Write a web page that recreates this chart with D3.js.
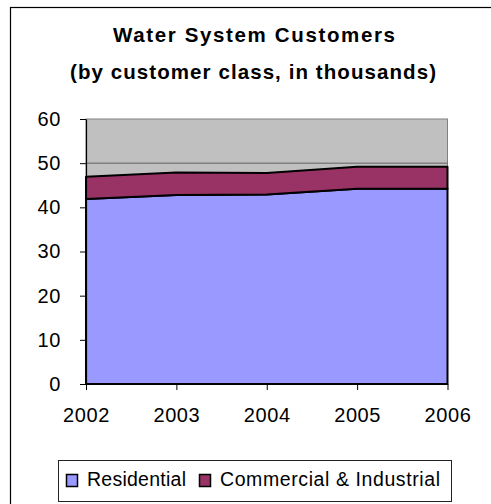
<!DOCTYPE html>
<html>
<head>
<meta charset="utf-8">
<script src="https://cdn.jsdelivr.net/npm/d3@7"></script>
<style>
  html, body { margin: 0; padding: 0; background: #fff; }
  svg { display: block; font-family: "Liberation Sans", Arial, sans-serif; }
</style>
</head>
<body>
<svg id="chart" width="491" height="504"></svg>
<script>
// Customer counts by class, in thousands
const years = [2002, 2003, 2004, 2005, 2006];
const residential = [41.9, 42.8, 42.9, 44.2, 44.2];
const commercial = [5.0, 5.1, 4.9, 5.0, 5.0];
const yTicks = [0, 10, 20, 30, 40, 50, 60];
const seriesNames = ["Residential", "Commercial & Industrial"];
const seriesColors = ["#9999FF", "#993366"];

const svg = d3.select("#chart");
const labelFont = "Liberation Sans, Arial, sans-serif";

// outer chart frame
svg.append("rect")
  .attr("x", 10.5).attr("y", 7.5)
  .attr("width", 490).attr("height", 510)
  .attr("fill", "#fff").attr("stroke", "#000").attr("stroke-width", 1.2);

// title, two lines, stretched to the wide Excel-style spacing
const title = svg.append("text")
  .attr("text-anchor", "middle")
  .attr("font-weight", "bold")
  .attr("font-size", 20.5)
  .attr("fill", "#000");
title.append("tspan").attr("x", 254).attr("y", 42)
  .attr("textLength", 282).attr("lengthAdjust", "spacing")
  .text("Water System Customers");
title.append("tspan").attr("x", 253).attr("y", 79)
  .attr("textLength", 366).attr("lengthAdjust", "spacing")
  .text("(by customer class, in thousands)");

const x0 = 86, x1 = 447.5, yTop = 119, yBot = 384;
const x = d3.scalePoint().domain(years).range([x0, x1]);
const y = d3.scaleLinear().domain([0, 60]).range([yBot, yTop]);

// plot area
svg.append("rect")
  .attr("x", x0).attr("y", yTop)
  .attr("width", x1 - x0).attr("height", yBot - yTop)
  .attr("fill", "#C0C0C0").attr("stroke", "#808080").attr("stroke-width", 1);

// horizontal gridlines
svg.append("g").selectAll("line").data(yTicks.filter(t => t > 0 && t < 60)).join("line")
  .attr("x1", x0).attr("x2", x1)
  .attr("y1", d => y(d)).attr("y2", d => y(d))
  .attr("stroke", "#606060").attr("stroke-width", 1);

// stacked areas
const rows = years.map((yr, i) => ({ year: yr, res: residential[i], com: commercial[i] }));
const stacked = d3.stack().keys(["res", "com"])(rows);
const area = d3.area()
  .x(d => x(d.data.year))
  .y0(d => y(d[0]))
  .y1(d => y(d[1]));

svg.append("g").selectAll("path").data(stacked).join("path")
  .attr("d", area)
  .attr("fill", (d, i) => seriesColors[i])
  .attr("stroke", "#000")
  .attr("stroke-width", 2)
  .attr("stroke-linejoin", "round");

// y axis
const yAxis = svg.append("g")
  .attr("transform", `translate(${x0},0)`)
  .call(d3.axisLeft(y).tickValues(yTicks).tickSize(6).tickPadding(19).tickSizeOuter(0));
yAxis.select(".domain").attr("stroke", "#000").attr("stroke-width", 1.2);
yAxis.selectAll(".tick line").attr("stroke", "#000");
yAxis.selectAll("text").attr("font-size", 20).attr("fill", "#000")
  .attr("font-family", labelFont).attr("letter-spacing", 0.6);

// x axis
const xAxis = svg.append("g")
  .attr("transform", `translate(0,${yBot})`)
  .call(d3.axisBottom(x).tickSize(6).tickPadding(18).tickSizeOuter(0).tickFormat(d3.format("d")));
xAxis.select(".domain").attr("stroke", "#000").attr("stroke-width", 1.2);
xAxis.selectAll(".tick line").attr("stroke", "#000");
xAxis.selectAll("text").attr("font-size", 20).attr("fill", "#000")
  .attr("font-family", labelFont).attr("letter-spacing", 0.6);

// legend
const legend = svg.append("g");
legend.append("rect")
  .attr("x", 58.5).attr("y", 460.5).attr("width", 393).attr("height", 41)
  .attr("fill", "#fff").attr("stroke", "#222").attr("stroke-width", 1);
const legendX = [66.5, 199.5];
const legendW = [99, 220];
const items = legend.selectAll("g.item").data(seriesNames).join("g")
  .attr("class", "item")
  .attr("transform", (d, i) => `translate(${legendX[i]},474.5)`);
items.append("rect")
  .attr("width", 11).attr("height", 12)
  .attr("fill", (d, i) => seriesColors[i])
  .attr("stroke", "#000").attr("stroke-width", 1.5);
items.append("text")
  .attr("x", 20.5).attr("y", 11.5)
  .attr("font-size", 19.5).attr("fill", "#000")
  .attr("textLength", (d, i) => legendW[i]).attr("lengthAdjust", "spacing")
  .text(d => d);
</script>
</body>
</html>
